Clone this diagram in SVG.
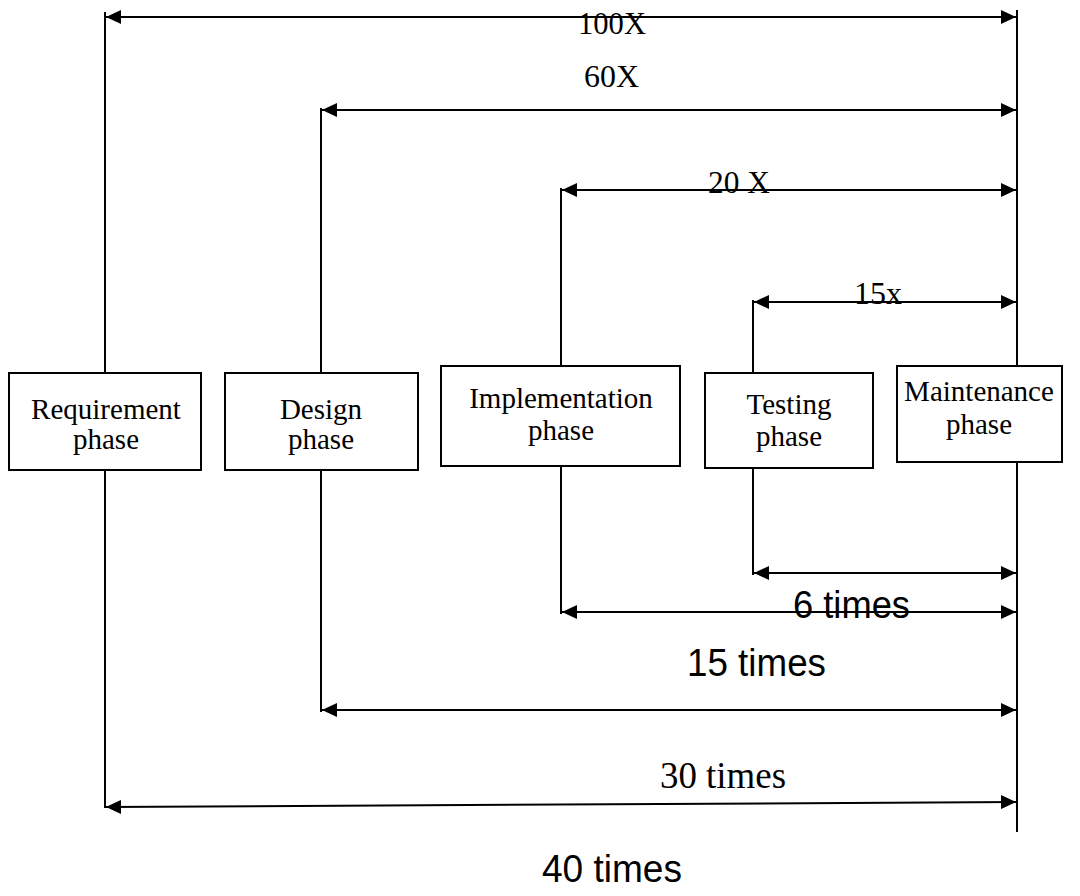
<svg xmlns="http://www.w3.org/2000/svg" width="1080" height="896" viewBox="0 0 1080 896">
<style>
.box{fill:#fff;stroke:#000;stroke-width:2}
.ln{stroke:#000;stroke-width:2;fill:none}
.ar{stroke:#000;stroke-width:2;fill:none;marker-start:url(#ah);marker-end:url(#ah)}
.t{font-family:"Liberation Serif","Times New Roman",serif;font-size:29px;fill:#000;text-anchor:middle}
.lt{font-family:"Liberation Serif","Times New Roman",serif;font-size:32px;fill:#000}
.la{font-family:"Liberation Sans",Arial,sans-serif;font-size:38px;fill:#000}
</style>
<defs>
<marker id="ah" markerUnits="userSpaceOnUse" markerWidth="16" markerHeight="14" refX="15" refY="7" orient="auto-start-reverse">
<path d="M0,0 L15,7 L0,14 z" fill="#000"/>
</marker>
</defs>
<g id="connectors">
<line class="ln" x1="105" y1="12" x2="105" y2="373"/>
<line class="ln" x1="105" y1="470" x2="105" y2="808"/>
<line class="ln" x1="321" y1="108" x2="321" y2="373"/>
<line class="ln" x1="321" y1="470" x2="321" y2="712"/>
<line class="ln" x1="561" y1="188" x2="561" y2="366"/>
<line class="ln" x1="561" y1="466" x2="561" y2="614"/>
<line class="ln" x1="753" y1="300" x2="753" y2="373"/>
<line class="ln" x1="753" y1="468" x2="753" y2="575"/>
<line class="ln" x1="1017" y1="10" x2="1017" y2="366"/>
<line class="ln" x1="1017" y1="462" x2="1017" y2="832"/>
<line class="ar" x1="106" y1="17" x2="1016" y2="17"/>
<line class="ar" x1="322" y1="110" x2="1016" y2="110"/>
<line class="ar" x1="562" y1="190" x2="1016" y2="190"/>
<line class="ar" x1="754" y1="302" x2="1016" y2="302"/>
<line class="ar" x1="754" y1="573" x2="1016" y2="573"/>
<line class="ar" x1="562" y1="612" x2="1016" y2="612"/>
<line class="ar" x1="322" y1="710" x2="1016" y2="710"/>
<line class="ar" x1="106" y1="807" x2="1016" y2="802"/>
</g>
<g id="labels">
<text class="lt" x="578" y="34" textLength="68" lengthAdjust="spacingAndGlyphs">100X</text>
<text class="lt" x="584" y="87" textLength="55" lengthAdjust="spacingAndGlyphs">60X</text>
<text class="lt" x="708" y="193" textLength="62" lengthAdjust="spacingAndGlyphs">20 X</text>
<text class="lt" x="854" y="304" textLength="48" lengthAdjust="spacingAndGlyphs">15x</text>
<text class="la" x="793" y="618" textLength="117" lengthAdjust="spacingAndGlyphs">6 times</text>
<text class="la" x="687" y="676" textLength="139" lengthAdjust="spacingAndGlyphs">15 times</text>
<text class="lt" x="660" y="788" font-size="37" textLength="126" lengthAdjust="spacingAndGlyphs" style="font-size:37px">30 times</text>
<text class="la" x="542" y="882" textLength="140" lengthAdjust="spacingAndGlyphs">40 times</text>
</g>
<g id="requirement">
<rect class="box" x="9" y="373" width="192" height="97"/>
<text class="t" x="106" y="419">Requirement</text>
<text class="t" x="106" y="449">phase</text>
</g>
<g id="design">
<rect class="box" x="225" y="373" width="193" height="97"/>
<text class="t" x="321" y="419">Design</text>
<text class="t" x="321" y="449">phase</text>
</g>
<g id="implementation">
<rect class="box" x="441" y="366" width="239" height="100"/>
<text class="t" x="561" y="408">Implementation</text>
<text class="t" x="561" y="440">phase</text>
</g>
<g id="testing">
<rect class="box" x="705" y="373" width="168" height="95"/>
<text class="t" x="789" y="414">Testing</text>
<text class="t" x="789" y="446">phase</text>
</g>
<g id="maintenance">
<rect class="box" x="897" y="366" width="165" height="96"/>
<text class="t" x="979" y="401">Maintenance</text>
<text class="t" x="979" y="434">phase</text>
</g>
</svg>
